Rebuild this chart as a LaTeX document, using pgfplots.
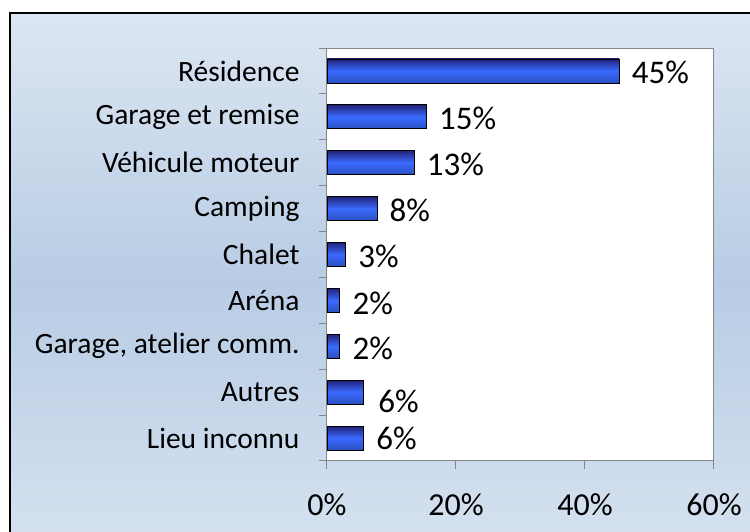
\documentclass[border=0pt]{standalone}
\usepackage{fontspec}
\setmainfont{Carlito}
\usepackage{pgfplots}
\pgfplotsset{compat=1.18}
\definecolor{bgtop}{HTML}{DCE6F2}
\definecolor{bgmid}{HTML}{B8CCE4}
\definecolor{bgbot}{HTML}{D6E2F0}
\definecolor{bartop}{HTML}{22227A}
\definecolor{barmid}{HTML}{3A6BFF}
\definecolor{barbot}{HTML}{2A4FC0}
\definecolor{axgray}{HTML}{868686}
\pgfplotsset{
  mybar/.style={xbar, bar shift=0pt, bar width=24pt, draw=black, line width=0.8pt,
    top color=bartop, bottom color=barbot, middle color=barmid,
    point meta=explicit symbolic, nodes near coords,
    nodes near coords style={font=\fontsize{33}{33}\selectfont, anchor=west, xshift=9pt, text=black}},
}
\begin{document}
\begin{tikzpicture}[x=1pt,y=1pt]
\useasboundingbox (0,0) rectangle (750,532);
\begin{scope}
\clip (0,0) rectangle (750,532);
\shade[top color=bgtop, bottom color=bgbot, middle color=bgmid] (10,519) rectangle (770,-20);
\draw[black, line width=1.5pt] (10,-20) -- (10,519) -- (770,519);
\end{scope}
\begin{axis}[
  at={(327pt,71pt)}, anchor=south west,
  scale only axis, width=387pt, height=413pt,
  xmin=0, xmax=60, ymin=-0.5, ymax=8.5,
  axis background/.style={fill=white},
  axis line style={axgray, line width=1pt},
  tick align=outside, major tick length=8pt,
  tick style={axgray, line width=1pt},
  xtick={0,20,40,60},
  xticklabel={\pgfmathprintnumber{\tick}\%},
  /pgf/number format/assume math mode=true,
  xticklabel style={font=\fontsize{32}{32}\selectfont, yshift=-21pt},
  ytick={0,...,8},
  yticklabels={Lieu inconnu, Autres, {Garage, atelier comm.}, Aréna, Chalet, Camping, Véhicule moteur, Garage et remise, Résidence},
  ytick style={draw=none},
  yticklabel style={font=\fontsize{29.5}{29.5}\selectfont, xshift=-16pt},
  extra y ticks={-0.5,0.5,1.5,2.5,3.5,4.5,5.5,6.5,7.5,8.5},
  extra y tick labels={},
  extra y tick style={ytick style={draw=axgray}},
  xtick pos=bottom, ytick pos=left,
  clip=false,
]
\addplot[mybar, nodes near coords style={yshift=-0.5pt}] coordinates {(5.7,0) [6\%]};
\addplot[mybar, nodes near coords style={yshift=-9pt, xshift=2pt}] coordinates {(5.7,1) [6\%]};
\addplot[mybar, nodes near coords style={yshift=-2pt}] coordinates {(2.0,2) [2\%]};
\addplot[mybar, nodes near coords style={yshift=-3pt}] coordinates {(2.0,3) [2\%]};
\addplot[mybar, nodes near coords style={yshift=-2pt}] coordinates {(2.9,4) [3\%]};
\addplot[mybar, nodes near coords style={yshift=-2pt}] coordinates {(7.75,5) [8\%]};
\addplot[mybar, nodes near coords style={yshift=-2pt}] coordinates {(13.5,6) [13\%]};
\addplot[mybar, nodes near coords style={yshift=-2pt}] coordinates {(15.4,7) [15\%]};
\addplot[mybar, nodes near coords style={yshift=-1pt}] coordinates {(45.3,8) [45\%]};
\end{axis}
\end{tikzpicture}
\end{document}
